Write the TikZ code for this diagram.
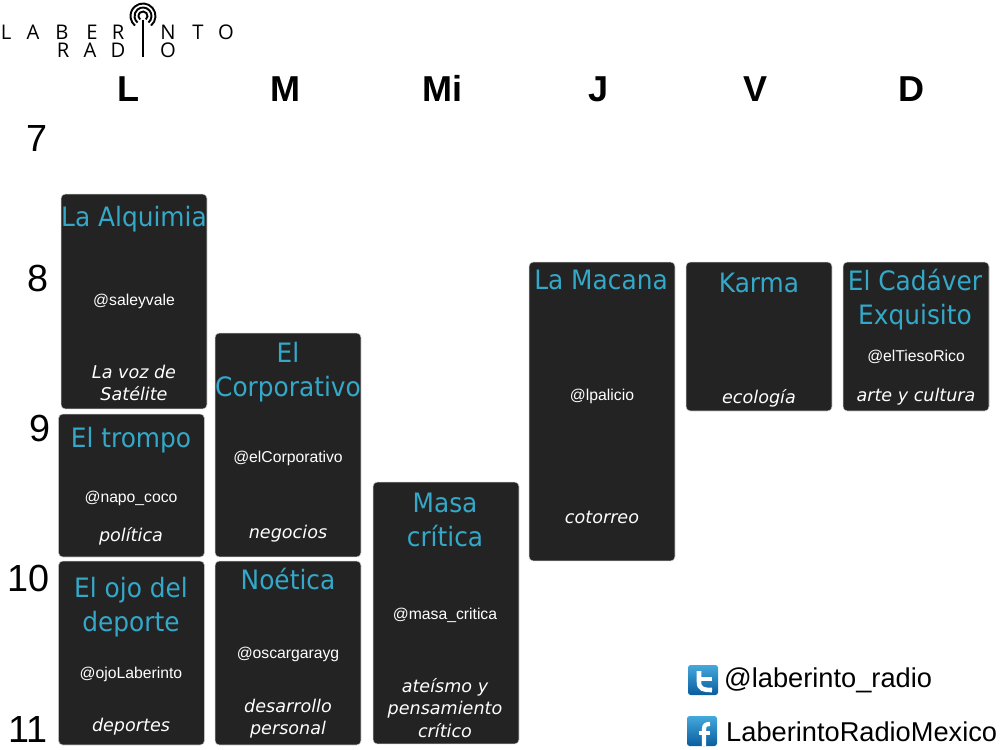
\documentclass[tikz,border=0pt]{standalone}
\usepackage{fontspec}
\setmainfont{Liberation Sans}
\newfontfamily\dejavu[FakeStretch=0.93]{DejaVu Sans}
\newfontfamily\dejavuit{DejaVu Sans}
\newfontfamily\logofont{Open Sans}
\usepackage{xcolor}
\usetikzlibrary{positioning,calc}
\definecolor{showbg}{HTML}{232323}
\definecolor{showtitle}{HTML}{33A8C8}
\definecolor{icontop}{HTML}{45A9DC}
\definecolor{iconbot}{HTML}{0A5C9E}

\begin{document}
\begin{tikzpicture}[
        x=0.02cm, y=-0.02cm,
        show/.style={rectangle, rounded corners=2.5pt, fill=showbg, draw=black!25, line width=0.3pt, minimum width=2.92cm, inner sep=0pt},
        title/.style={text=showtitle, font=\dejavu\fontsize{15.2}{19.4}\selectfont, align=center},
        handle/.style={text=white, font=\fontsize{8.95}{10}\selectfont, align=center},
        topic/.style={text=white, font=\dejavuit\itshape\fontsize{10}{12.6}\selectfont, align=center},
        day/.style={font=\bfseries\fontsize{20.5}{24}\selectfont, anchor=base},
        hour/.style={font=\fontsize{21.5}{24}\selectfont, anchor=base},
        logoletter/.style={font=\logofont\fontsize{11.5}{12}\selectfont},
        contact/.style={font=\fontsize{15.5}{18}\selectfont, anchor=west},
        icon/.style={rectangle, rounded corners=1.5pt, minimum size=0.6cm, inner sep=0pt, top color=icontop, bottom color=iconbot},
        glyph/.style={draw=white, line width=2.2pt}
    ]
        \useasboundingbox (0,0) rectangle (1000,750);

        % logo
        \foreach \lx/\ly/\lt in {6/32/L, 33/32/A, 62/32/B, 92/32/E, 118/32/R, 168/32/N, 198/32/T, 226/32/O, 63/50/R, 90/50/A, 118/50/D, 168/50/O}
            \node[logoletter] (logo\lx\lt\ly) at (\lx,\ly) {\lt};
        \coordinate (mastTop) at (143,20);
        \coordinate (mastEnd) at (143,57);
        \draw[line width=1.1pt] (mastTop) -- (mastEnd);
        \foreach \r in {4.5,8.5,12.5}
            \draw[line width=1.1pt] (143,16) ++(50:\r) arc[start angle=-50, delta angle=280, radius=\r*0.569pt];

        % days
        \node[day] (dL) at (128,102) {L};
        \node[day] (dM) at (285,102) {M};
        \node[day] (dMi) at (442,102) {Mi};
        \node[day] (dJ) at (599,102) {J};
        \node[day] (dV) at (755,102) {V};
        \node[day] (dD) at (911,102) {D};

        % hours
        \node[hour] (h7) at (37,152) {7};
        \node[hour] (h8) at (38,291) {8};
        \node[hour] (h9) at (40,441) {9};
        \node[hour] (h10) at (29,591) {10};
        \node[hour] (h11) at (28,742) {11};

        % programs
        \node[show, minimum height=4.3cm] (alquimia) at (134,301.5) {};
        \node[show, minimum height=2.86cm] (trompo) at (131.5,485.5) {};
        \node[show, minimum height=3.68cm] (ojo) at (131.5,653) {};
        \node[show, minimum height=4.48cm] (corp) at (288,445) {};
        \node[show, minimum height=3.68cm] (noetica) at (288,653) {};
        \node[show, minimum height=5.24cm] (masa) at (446,613) {};
        \node[show, minimum height=5.98cm] (macana) at (602,411.5) {};
        \node[show, minimum height=2.98cm] (karma) at (759,336.5) {};
        \node[show, minimum height=2.98cm] (cadaver) at (916,336.5) {};

        \node[title] (alquimiaT) at (134,219) {La Alquimia};
        \node[handle] (alquimiaH) at (134,301.5) {@saleyvale};
        \node[topic] (alquimiaS) at (134,383) {La voz de\\Satélite};

        \node[title] (trompoT) at (131,440) {El trompo};
        \node[handle] (trompoH) at (131,498) {@napo\_coco};
        \node[topic] (trompoS) at (131,536) {política};

        \node[title] (ojoT) at (131,607) {El ojo del\\deporte};
        \node[handle] (ojoH) at (131,674) {@ojoLaberinto};
        \node[topic] (ojoS) at (131,727) {deportes};

        \node[title] (corpT) at (288,372) {El\\Corporativo};
        \node[handle] (corpH) at (288,458) {@elCorporativo};
        \node[topic] (corpS) at (288,534) {negocios};

        \node[title] (noeticaT) at (288,579) {Noética};
        \node[handle] (noeticaH) at (288,654) {@oscargarayg};
        \node[topic] (noeticaS) at (288,719) {desarrollo\\personal};

        \node[title] (masaT) at (445,520) {Masa\\crítica};
        \node[handle] (masaH) at (445,615) {@masa\_critica};
        \node[topic] (masaS) at (445,708) {ateísmo y\\pensamiento\\crítico};

        \node[title] (macanaT) at (601,280) {La Macana};
        \node[handle] (macanaH) at (602,396.5) {@lpalicio};
        \node[topic] (macanaS) at (602,517) {cotorreo};

        \node[title] (karmaT) at (759,283) {Karma};
        \node[topic] (karmaS) at (759,398) {ecología};

        \node[title] (cadaverT) at (915,300) {El Cadáver\\Exquisito};
        \node[handle] (cadaverH) at (916,357) {@elTiesoRico};
        \node[topic] (cadaverS) at (916,397) {arte y cultura};

        % contact
        \node[icon] (tw) at (703,680) {};
        \draw[glyph, line width=2.6pt] (699,671) -- (699,682) .. controls (699,689) and (703,690) .. (712,690);
        \draw[glyph, line width=2.6pt] (699,679) -- (712,679);
        \node[contact] (twL) at (718,680) {@laberinto\_radio};
        \node[icon] (fb) at (702,731) {};
        \draw[glyph, line width=2.4pt] (704,746) -- (704,729) .. controls (704,725) and (706,724) .. (710,724);
        \draw[glyph, line width=1.8pt] (699,733) -- (710,733);
        \node[contact] (fbL) at (720,732) {LaberintoRadioMexico};
    \end{tikzpicture}
\end{document}
